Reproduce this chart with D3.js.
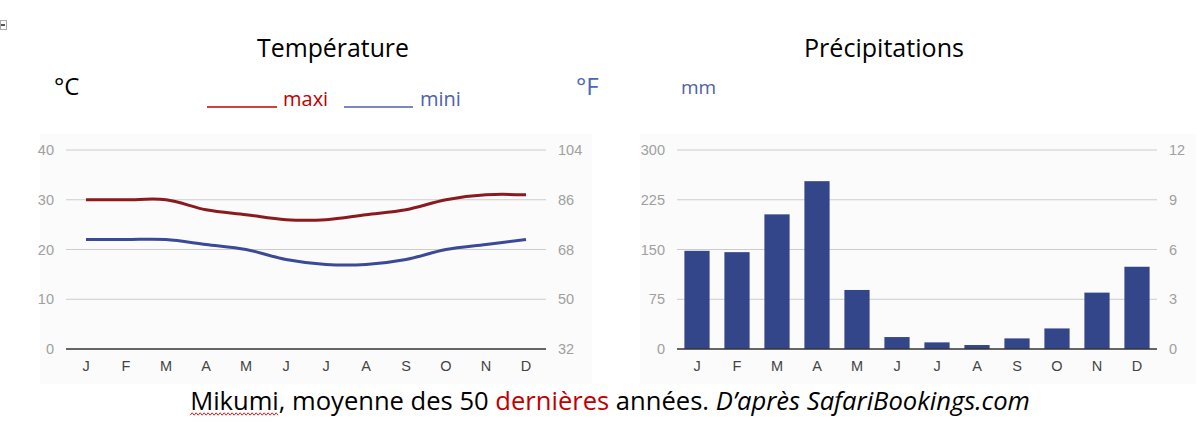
<!DOCTYPE html>
<html>
<head>
<meta charset="utf-8">
<script src="https://cdn.jsdelivr.net/npm/d3@7"></script>
<style>
  body { margin: 0; background: #fff; }
  svg { display: block; }
</style>
</head>
<body>
<script>
// data
const months = ["J", "F", "M", "A", "M", "J", "J", "A", "S", "O", "N", "D"];
const tempMax = [30, 30, 30, 28, 27, 26, 26, 27, 28, 30, 31, 31];
const tempMin = [22, 22, 22, 21, 20, 18, 17, 17, 18, 20, 21, 22];
const rainMm = [148, 146, 203, 253, 89, 18, 10, 6, 16, 31, 85, 124];
const celsiusTicks = [0, 10, 20, 30, 40];
const fahrenheitTicks = [32, 50, 68, 86, 104];
const mmTicks = [0, 75, 150, 225, 300];
const inchTicks = [0, 3, 6, 9, 12];

const W = 1200, H = 428;
const font = "'Open Sans', 'Noto Sans', sans-serif";
const axisFont = "'Liberation Sans', Arial, sans-serif";

const svg = d3.select("body").append("svg")
  .attr("width", W).attr("height", H)
  .attr("viewBox", [0, 0, W, H]);

// little handle in the corner
svg.append("rect").attr("x", 0.5).attr("y", 20.5).attr("width", 6).attr("height", 9)
  .attr("fill", "#fff").attr("stroke", "#aaa");
svg.append("rect").attr("x", 1).attr("y", 24).attr("width", 4).attr("height", 2).attr("fill", "#555");

// shrink/grow a text to a given width
function fit(t, width) {
  const w = t.node().getComputedTextLength();
  const fs = parseFloat(t.attr("font-size"));
  t.attr("font-size", fs * width / w);
  return t;
}

const idx = months.map((_, i) => i);
const plotTop = 150, plotBottom = 349;

function panel(x0, x1) {
  svg.append("rect").attr("x", x0).attr("y", 134).attr("width", x1 - x0).attr("height", 250)
    .attr("fill", "#fbfbfb");
}

function frame(x, y, yRight, leftTicks, rightTicks) {
  const g = svg.append("g");
  const [r0, r1] = x.range();
  g.selectAll("line.grid").data(leftTicks.slice(1)).join("line")
    .attr("x1", r0).attr("x2", r1)
    .attr("y1", d => y(d)).attr("y2", d => y(d))
    .attr("stroke", "#cccccc").attr("stroke-width", 1);

  const axL = svg.append("g").attr("transform", `translate(${r0},0)`)
    .call(d3.axisLeft(y).tickValues(leftTicks).tickSize(0).tickPadding(12));
  const axR = svg.append("g").attr("transform", `translate(${r1},0)`)
    .call(d3.axisRight(yRight).tickValues(rightTicks).tickSize(0).tickPadding(12));
  [axL, axR].forEach(a => {
    a.select(".domain").remove();
    a.selectAll("text").attr("fill", "#a0a0a0").attr("font-size", 14.5).attr("font-family", axisFont);
  });

  const axB = svg.append("g").attr("transform", `translate(0,${plotBottom + 5})`)
    .call(d3.axisBottom(x).tickFormat(i => months[i]).tickSize(0).tickPadding(7));
  axB.select(".domain").remove();
  axB.selectAll("text").attr("fill", "#444").attr("font-size", 14.5).attr("font-family", axisFont);
  return g;
}

// ---------- temperature ----------
panel(40, 592);
const xT = d3.scaleBand().domain(idx).range([66, 546]);
const yT = d3.scaleLinear().domain([0, 40]).range([plotBottom, plotTop]);
const yF = d3.scaleLinear().domain([32, 104]).range([plotBottom, plotTop]);
frame(xT, yT, yF, celsiusTicks, fahrenheitTicks);

const line = (arr) => d3.line()
  .x((d, i) => xT(i) + xT.bandwidth() / 2)
  .y(d => yT(d))
  .curve(d3.curveCatmullRom.alpha(0.5))(arr);

svg.append("path").attr("d", line(tempMax)).attr("fill", "none")
  .attr("stroke", "#8b1a1f").attr("stroke-width", 3);
svg.append("path").attr("d", line(tempMin)).attr("fill", "none")
  .attr("stroke", "#3a4a98").attr("stroke-width", 3);
svg.append("line").attr("x1", xT.range()[0]).attr("x2", xT.range()[1])
  .attr("y1", plotBottom).attr("y2", plotBottom).attr("stroke", "#333").attr("stroke-width", 1.5);

// ---------- precipitation ----------
panel(640, 1196);
const xP = d3.scaleBand().domain(idx).range([677, 1157]).paddingInner(0.37).paddingOuter(0.185);
const yP = d3.scaleLinear().domain([0, 300]).range([plotBottom, plotTop]);
const yIn = d3.scaleLinear().domain([0, 12]).range([plotBottom, plotTop]);
frame(xP, yP, yIn, mmTicks, inchTicks);

svg.append("g").selectAll("rect").data(rainMm).join("rect")
  .attr("x", (d, i) => xP(i)).attr("width", xP.bandwidth())
  .attr("y", d => yP(d)).attr("height", d => yP(0) - yP(d))
  .attr("fill", "#34468a");
svg.append("line").attr("x1", xP.range()[0]).attr("x2", xP.range()[1])
  .attr("y1", plotBottom).attr("y2", plotBottom).attr("stroke", "#333").attr("stroke-width", 1.5);

// ---------- titles and legend ----------
fit(svg.append("text").attr("x", 333).attr("y", 57).attr("text-anchor", "middle")
  .attr("font-family", font).attr("font-size", 24).attr("fill", "#000").text("Température"), 152);
fit(svg.append("text").attr("x", 884).attr("y", 57).attr("text-anchor", "middle")
  .attr("font-family", font).attr("font-size", 24).attr("fill", "#000").text("Précipitations"), 160);

svg.append("text").attr("x", 54).attr("y", 95).attr("font-family", font).attr("font-size", 24)
  .attr("fill", "#000").text("°C");
svg.append("text").attr("x", 576).attr("y", 95).attr("font-family", font).attr("font-size", 24)
  .attr("fill", "#4a67b0").text("°F");
svg.append("text").attr("x", 681).attr("y", 94).attr("font-family", font).attr("font-size", 19)
  .attr("fill", "#4d5fa6").text("mm");

svg.append("line").attr("x1", 207).attr("x2", 277).attr("y1", 107).attr("y2", 107)
  .attr("stroke", "#c00000").attr("stroke-width", 1.5);
svg.append("text").attr("x", 283).attr("y", 106).attr("font-family", font).attr("font-size", 20)
  .attr("fill", "#c00000").text("maxi");
svg.append("line").attr("x1", 344).attr("x2", 413).attr("y1", 107).attr("y2", 107)
  .attr("stroke", "#4a62aa").attr("stroke-width", 1.5);
svg.append("text").attr("x", 420).attr("y", 106).attr("font-family", font).attr("font-size", 20)
  .attr("fill", "#4a62aa").text("mini");

// ---------- caption ----------
const cap = svg.append("text").attr("x", 610).attr("y", 410).attr("text-anchor", "middle")
  .attr("font-family", font).attr("font-size", 23).attr("fill", "#000");
const first = cap.append("tspan").text("Mikumi");
cap.append("tspan").text(", moyenne des 50 ");
cap.append("tspan").attr("fill", "#c00000").text("dernières");
cap.append("tspan").text(" années. ");
cap.append("tspan").attr("font-style", "italic").text("D’après SafariBookings.com");
fit(cap, 840);

// spell-check squiggle under "Mikumi"
const bb = first.node().getBBox();
const sq = d3.range(0, Math.floor(bb.width / 2) + 1).map(k => [bb.x + k * 2, 414 + (k % 2 ? -1.2 : 1.2)]);
svg.append("path").attr("d", d3.line()(sq)).attr("fill", "none")
  .attr("stroke", "#d02020").attr("stroke-width", 1);
</script>
</body>
</html>
